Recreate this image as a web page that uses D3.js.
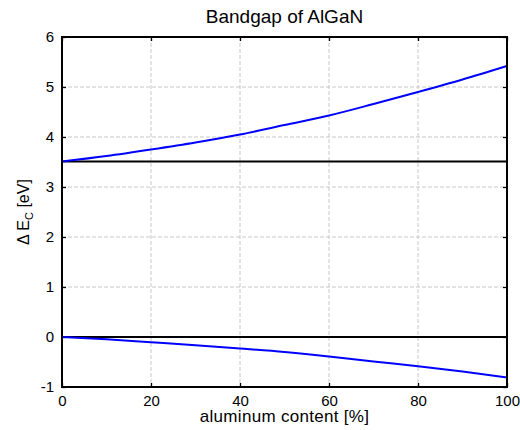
<!doctype HTML>
<html>
<head>
    <meta charset="utf-8">
    <script src="https://d3js.org/d3.v7.min.js"></script>
    <style>
        body { margin: 0; background: #fff; }
        text { font-family: "Liberation Sans", Arial, sans-serif; }
    </style>
</head>
<body>
<script>

    // aluminum content [%] and band edge offsets [eV]
    var alContent = [0, 10, 20, 30, 40, 50, 60, 70, 80, 90, 100];
    var conductionEdge = [3.51, 3.62, 3.75, 3.89, 4.05, 4.24, 4.43, 4.66, 4.90, 5.15, 5.42];
    var valenceEdge = [0, -0.045, -0.105, -0.165, -0.23, -0.30, -0.39, -0.49, -0.585, -0.69, -0.81];
    // GaN reference levels (black lines)
    var ganLevels = [3.51, 0];

    var xTicks = [0, 20, 40, 60, 80, 100];
    var yTicks = [-1, 0, 1, 2, 3, 4, 5, 6];

    var margin = {top: 37, right: 13, bottom: 43, left: 62},
        width = 520 - margin.left - margin.right,
        height = 430 - margin.top - margin.bottom;

    var svg = d3.select("body")
        .append("svg")
        .attr("width", 520)
        .attr("height", 430)
        .append("g")
        .attr("transform", "translate(" + margin.left + "," + margin.top + ")");

    var x = d3.scaleLinear().domain([0, 100]).range([0, width]);
    var y = d3.scaleLinear().domain([-1, 6]).range([height, 0]);

    // plain labels, hyphen for minus like matlab
    var fmt = d => String(d);

    // grid
    svg.append("g")
        .selectAll("line")
        .data(xTicks.slice(1, -1))
        .enter().append("line")
        .attr("x1", d => x(d)).attr("x2", d => x(d))
        .attr("y1", 0).attr("y2", height)
        .attr("stroke", "#c8c8c8")
        .attr("stroke-dasharray", "4,2");
    svg.append("g")
        .selectAll("line")
        .data(yTicks.slice(1, -1))
        .enter().append("line")
        .attr("y1", d => y(d)).attr("y2", d => y(d))
        .attr("x1", 0).attr("x2", width)
        .attr("stroke", "#c8c8c8")
        .attr("stroke-dasharray", "4,2");

    // axes, ticks pointing inward like matlab
    function styleAxis(g) {
        g.select(".domain").remove();
        g.selectAll(".tick line").attr("stroke", "#000").attr("stroke-width", 1.3);
        g.selectAll(".tick text").attr("font-size", "15px").attr("fill", "#000")
            .style("font-family", "Liberation Sans, Arial, sans-serif");
    }

    svg.append("g")
        .attr("transform", "translate(0," + height + ")")
        .call(d3.axisBottom(x).tickValues(xTicks).tickFormat(fmt).tickSizeInner(-4).tickSizeOuter(0).tickPadding(8))
        .call(styleAxis);
    svg.append("g")
        .call(d3.axisTop(x).tickValues(xTicks).tickSizeInner(-4).tickSizeOuter(0))
        .call(styleAxis)
        .selectAll(".tick text").remove();
    svg.append("g")
        .call(d3.axisLeft(y).tickValues(yTicks).tickFormat(fmt).tickSizeInner(-4).tickSizeOuter(0).tickPadding(8))
        .call(styleAxis);
    svg.append("g")
        .attr("transform", "translate(" + width + ",0)")
        .call(d3.axisRight(y).tickValues(yTicks).tickSizeInner(-4).tickSizeOuter(0))
        .call(styleAxis)
        .selectAll(".tick text").remove();

    // reference lines
    svg.selectAll(".ref")
        .data(ganLevels)
        .enter().append("line")
        .attr("class", "ref")
        .attr("x1", x(0)).attr("x2", x(100))
        .attr("y1", d => y(d)).attr("y2", d => y(d))
        .attr("stroke", "#000")
        .attr("stroke-width", 2);

    // band edges
    var line = d3.line()
        .x(d => x(d[0]))
        .y(d => y(d[1]))
        .curve(d3.curveMonotoneX);

    [conductionEdge, valenceEdge].forEach(function(series) {
        svg.append("path")
            .datum(alContent.map((a, i) => [a, series[i]]))
            .attr("fill", "none")
            .attr("stroke", "#0000ff")
            .attr("stroke-width", 2)
            .attr("d", line);
    });

    // box
    svg.append("rect")
        .attr("width", width)
        .attr("height", height)
        .attr("fill", "none")
        .attr("stroke", "#000")
        .attr("stroke-width", 2);

    // title and labels
    svg.append("text")
        .attr("x", width / 2)
        .attr("y", -14)
        .attr("text-anchor", "middle")
        .attr("font-size", "19px")
        .text("Bandgap of AlGaN");

    svg.append("text")
        .attr("x", width / 2)
        .attr("y", height + 35)
        .attr("text-anchor", "middle")
        .attr("font-size", "17px")
        .attr("letter-spacing", "0.3px")
        .text("aluminum content [%]");

    var ylab = svg.append("text")
        .attr("transform", "translate(-33," + (height / 2) + ") rotate(-90)")
        .attr("text-anchor", "middle")
        .attr("font-size", "16px");
    ylab.append("tspan").text("\u0394 E");
    ylab.append("tspan").attr("font-size", "11px").attr("dy", 4).text("C");
    ylab.append("tspan").attr("dy", -4).text(" [eV]");

</script>
</body>
</html>
